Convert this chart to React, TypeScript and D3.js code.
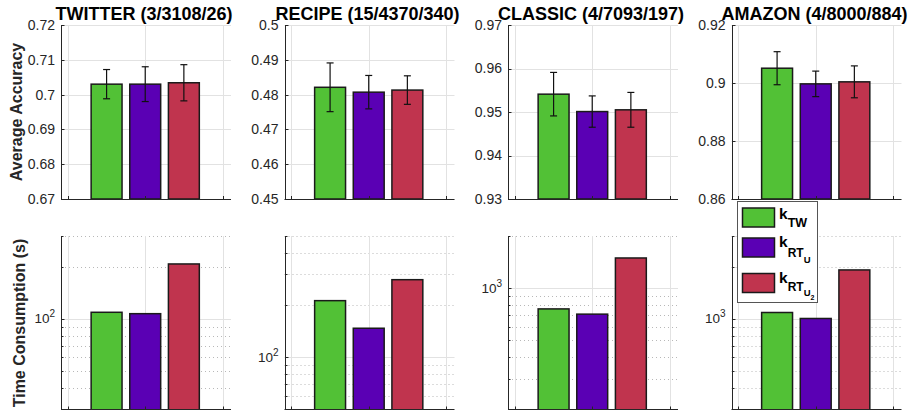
import React from 'react';
import * as d3 from 'd3';

const datasets = ['TWITTER (3/3108/26)', 'RECIPE (15/4370/340)', 'CLASSIC (4/7093/197)', 'AMAZON (4/8000/884)'];
const methodColors = ['#52C136', '#5A00B4', '#C0344E'];

const accTW = [0.7030, 0.4821, 0.9541, 0.9051];
const accRTU = [0.7030, 0.4807, 0.9501, 0.8997];
const accRTU2 = [0.7034, 0.4813, 0.9505, 0.9004];
const errTW = [0.0042, 0.0070, 0.0050, 0.0057];
const errRTU = [0.0050, 0.0048, 0.0036, 0.0044];
const errRTU2 = [0.0052, 0.0041, 0.0040, 0.0055];

const timeTW = [109, 212, 760, 1087];
const timeRTU = [107, 147, 709, 1004];
const timeRTU2 = [207, 280, 1494, 1912];

const accDomains = [[0.67, 0.72], [0.45, 0.5], [0.93, 0.97], [0.86, 0.92]];
const accTickLabels = [
  ['0.67', '0.68', '0.69', '0.7', '0.71', '0.72'],
  ['0.45', '0.46', '0.47', '0.48', '0.49', '0.5'],
  ['0.93', '0.94', '0.95', '0.96', '0.97'],
  ['0.86', '0.88', '0.9', '0.92'],
];
const timeDomains = [[30, 300], [50, 500], [200, 2000], [300, 3000]];
const barX = [0.5, 1, 1.5];
const xGrid = [0, 1, 2];

const W = 910, H = 410;
const panelLeft0 = 61, panelStep = 223.5, panelW = 170;
const topY0 = 25, topY1 = 199;
const botY0 = 236, botY1 = 409.5;
const FONT = '"Liberation Sans", Arial, Helvetica, sans-serif';
const AX = '#262626';
const GRID = '#e2e2e2';

function Panel({ i }: { i: number }) {
  const left = panelLeft0 + panelStep * i;
  const x = d3.scaleLinear().domain([-0.09, 2.11]).range([left, left + panelW]);
  const bw = x(0.4) - x(0);
  const yA = d3.scaleLinear().domain(accDomains[i]).range([topY1, topY0]);
  const yT = d3.scaleLog().domain(timeDomains[i]).range([botY1, botY0]);
  const accs = [accTW[i], accRTU[i], accRTU2[i]];
  const errs = [errTW[i], errRTU[i], errRTU2[i]];
  const times = [timeTW[i], timeRTU[i], timeRTU2[i]];
  const labels = accTickLabels[i];
  const accTicks = labels.map((l) => +l);
  const logTicks = yT.ticks();
  const majors = logTicks.filter((t) => Math.abs(Math.log10(t) - Math.round(Math.log10(t))) < 1e-9);
  const minors = logTicks.filter((t) => !majors.includes(t));
  const L = Math.round(left) + 0.5;
  return (
    <g>
      <text x={left + panelW / 2 - 2} y={19.5} textAnchor="middle" fontFamily={FONT} fontWeight="bold" fontSize={18} fill="#000">
        {datasets[i]}
      </text>
      {accTicks.map((t, k) => (
        <line key={'hg' + k} x1={left} x2={left + panelW} y1={Math.round(yA(t)) + 0.5} y2={Math.round(yA(t)) + 0.5} stroke={GRID} strokeWidth={1} />
      ))}
      {xGrid.map((g) => (
        <line key={'vg' + g} x1={Math.round(x(g)) + 0.5} x2={Math.round(x(g)) + 0.5} y1={topY0} y2={topY1} stroke={GRID} strokeWidth={1} />
      ))}
      {accs.map((v, k) => (
        <rect key={'ba' + k} x={x(barX[k]) - bw / 2} y={yA(v)} width={bw} height={topY1 - yA(v)} fill={methodColors[k]} stroke="#1a1a1a" strokeWidth={1.5} />
      ))}
      {accs.map((v, k) => {
        const cx = x(barX[k]);
        return (
          <g key={'e' + k} stroke="#111" strokeWidth={1.2}>
            <line x1={cx} x2={cx} y1={yA(v - errs[k])} y2={yA(v + errs[k])} />
            <line x1={cx - 3.5} x2={cx + 3.5} y1={yA(v - errs[k])} y2={yA(v - errs[k])} />
            <line x1={cx - 3.5} x2={cx + 3.5} y1={yA(v + errs[k])} y2={yA(v + errs[k])} />
          </g>
        );
      })}
      <line x1={L} x2={L} y1={topY0} y2={topY1} stroke={AX} strokeWidth={1} />
      <line x1={left} x2={left + panelW} y1={topY1 + 0.5} y2={topY1 + 0.5} stroke={AX} strokeWidth={1} />
      {accTicks.map((t, k) => (
        <g key={'ta' + k}>
          <line x1={L} x2={L + 3} y1={Math.round(yA(t)) + 0.5} y2={Math.round(yA(t)) + 0.5} stroke={AX} />
          <text x={left - 6} y={yA(t)} dy="0.35em" textAnchor="end" fontFamily={FONT} fontSize={14} fill={AX}>
            {labels[k]}
          </text>
        </g>
      ))}
      {xGrid.map((g) => (
        <line key={'xt' + g} x1={Math.round(x(g)) + 0.5} x2={Math.round(x(g)) + 0.5} y1={topY1} y2={topY1 - 3} stroke={AX} />
      ))}
      {minors.map((t, k) => (
        <line key={'mg' + k} x1={left} x2={left + panelW} y1={Math.round(yT(t)) + 0.5} y2={Math.round(yT(t)) + 0.5} stroke="#b8b8b8" strokeWidth={1} strokeDasharray="1 3" />
      ))}
      {majors.map((t, k) => (
        <line key={'Mg' + k} x1={left} x2={left + panelW} y1={Math.round(yT(t)) + 0.5} y2={Math.round(yT(t)) + 0.5} stroke={GRID} strokeWidth={1.2} />
      ))}
      {xGrid.map((g) => (
        <line key={'vgb' + g} x1={Math.round(x(g)) + 0.5} x2={Math.round(x(g)) + 0.5} y1={botY0} y2={botY1} stroke={GRID} strokeWidth={1} />
      ))}
      {times.map((v, k) => (
        <rect key={'bt' + k} x={x(barX[k]) - bw / 2} y={yT(v)} width={bw} height={botY1 + 2 - yT(v)} fill={methodColors[k]} stroke="#1a1a1a" strokeWidth={1.5} />
      ))}
      <line x1={L} x2={L} y1={botY0} y2={H} stroke={AX} strokeWidth={1} />
      <line x1={left} x2={left + panelW} y1={botY1} y2={botY1} stroke={AX} strokeWidth={1} />
      {minors.map((t, k) => (
        <line key={'mt' + k} x1={L} x2={L + 2} y1={Math.round(yT(t)) + 0.5} y2={Math.round(yT(t)) + 0.5} stroke={AX} />
      ))}
      {majors.map((t, k) => (
        <g key={'Mt' + k}>
          <line x1={L} x2={L + 3} y1={Math.round(yT(t)) + 0.5} y2={Math.round(yT(t)) + 0.5} stroke={AX} />
          <text x={left - 6} y={yT(t) + 4.5} textAnchor="end" fontFamily={FONT} fontSize={13.5} fill={AX}>
            10
            <tspan fontSize={10} dy={-6}>{String(Math.round(Math.log10(t)))}</tspan>
          </text>
        </g>
      ))}
      {xGrid.map((g) => (
        <line key={'xtb' + g} x1={Math.round(x(g)) + 0.5} x2={Math.round(x(g)) + 0.5} y1={botY1} y2={botY1 - 3} stroke={AX} />
      ))}
    </g>
  );
}

function Legend() {
  const bx = 737.5, by = 201.5, bwid = 80, bh = 101;
  const sw = [208, 238, 273.5];
  return (
    <g fontFamily={FONT} fontWeight="bold" fill="#000">
      <rect x={bx} y={by} width={bwid} height={bh} fill="#fff" stroke="#555" strokeWidth={1} />
      {methodColors.map((c, k) => (
        <rect key={k} x={742.5} y={sw[k]} width={32} height={19} fill={c} stroke="#1a1a1a" strokeWidth={1.5} />
      ))}
      <text x={779} y={218.5} fontSize={15.5}>
        k<tspan fontSize={12.5} dy={8}>TW</tspan>
      </text>
      <text x={779} y={246.5} fontSize={15.5}>
        k<tspan fontSize={12} dy={10}>RT</tspan><tspan fontSize={9.5} dy={6.5}>U</tspan>
      </text>
      <text x={779} y={282.5} fontSize={15.5}>
        k<tspan fontSize={12} dy={8.5}>RT</tspan><tspan fontSize={9.5} dy={4.5}>U</tspan><tspan fontSize={7} dy={4.5}>2</tspan>
      </text>
    </g>
  );
}

export default function App() {
  return (
    <svg width={W} height={H} style={{ position: 'absolute', left: 0, top: 0, background: '#fff' }}>
      <rect width={W} height={H} fill="#fff" />
      {datasets.map((_, i) => (
        <Panel key={i} i={i} />
      ))}
      <text transform={`translate(22,${(topY0 + topY1) / 2}) rotate(-90)`} textAnchor="middle" fontFamily={FONT} fontWeight="bold" fontSize={16} fill={AX}>
        Average Accuracy
      </text>
      <text transform={`translate(25,${(botY0 + H) / 2}) rotate(-90)`} textAnchor="middle" fontFamily={FONT} fontWeight="bold" fontSize={16} fill={AX}>
        Time Consumption (s)
      </text>
      <Legend />
    </svg>
  );
}
